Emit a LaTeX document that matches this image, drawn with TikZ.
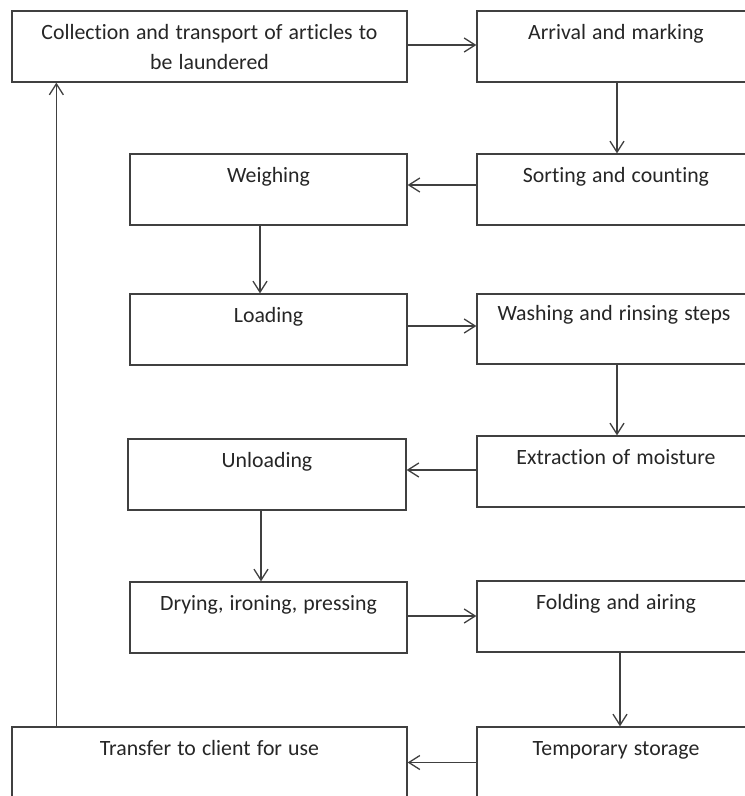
\documentclass[tikz,border=0pt]{standalone}
\usepackage{fontspec}
\setmainfont{Carlito}[Ligatures={NoCommon}, WordSpace={1.25}]
\usetikzlibrary{arrows.meta}
\definecolor{linecol}{HTML}{404040}
\definecolor{textcol}{HTML}{262626}
\begin{document}
\begin{tikzpicture}[x=1pt,y=-1pt,
  box/.style={draw=linecol, line width=1.3pt, rectangle, inner sep=0pt},
  txt/.style={anchor=base, text=textcol, inner sep=0pt, font=\fontsize{21.8}{30}\selectfont, align=center},
  arr/.style={draw=linecol, line width=1.3pt, -{Straight Barb[length=11pt,width=14pt,line width=1.3pt]}}]
\useasboundingbox (0,0) rectangle (745,796);
\fill[white] (0,0) rectangle (745,796);
\clip (0,0) rectangle (745,796);
% boxes
\node[box, minimum width=395pt, minimum height=71pt] (b1) at (209.5,46.5) {};
\node[box, minimum width=278pt, minimum height=71pt] (b2) at (616,46.5) {};
\node[box, minimum width=277pt, minimum height=71pt] (b3) at (268.5,189.5) {};
\node[box, minimum width=278pt, minimum height=71pt] (b4) at (616,189.5) {};
\node[box, minimum width=277pt, minimum height=71pt] (b5) at (268.5,329.5) {};
\node[box, minimum width=278pt, minimum height=70pt] (b6) at (616,329) {};
\node[box, minimum width=278pt, minimum height=71pt] (b7) at (267,474.5) {};
\node[box, minimum width=278pt, minimum height=71pt] (b8) at (616,471.5) {};
\node[box, minimum width=277pt, minimum height=71pt] (b9) at (268.5,617.5) {};
\node[box, minimum width=278pt, minimum height=71pt] (b10) at (616,616.5) {};
\node[box, minimum width=395pt, minimum height=71pt] (b11) at (209.5,762.5) {};
\node[box, minimum width=278pt, minimum height=71pt] (b12) at (616,762.5) {};
% texts
\node[txt] (t1a) at (209.5,39) {Collection and transport of articles to};
\node[txt] (t1b) at (209.5,69) {be laundered};
\node[txt] (t2) at (616,39) {Arrival and marking};
\node[txt] (t3) at (268.5,182) {Weighing};
\node[txt] (t4) at (616,182) {Sorting and counting};
\node[txt] (t5) at (268.5,322) {Loading};
\node[txt] (t6) at (614,320) {Washing and rinsing steps};
\node[txt] (t7) at (267,467) {Unloading};
\node[txt] (t8) at (616,464) {Extraction of moisture};
\node[txt] (t9) at (268.5,610) {Drying, ironing, pressing};
\node[txt] (t10) at (616,609) {Folding and airing};
\node[txt] (t11) at (209.5,755) {Transfer to client for use};
\node[txt] (t12) at (616,755) {Temporary storage};
% connectors
\draw[arr] ([yshift=1.5pt]b1.east) -- ([yshift=1.5pt]b2.west);
\draw[arr] ([xshift=1pt]b2.south) -- ([xshift=1pt]b2.south |- b4.north);
\draw[arr] ([yshift=4.5pt]b4.west) -- ([yshift=4.5pt]b3.east);
\draw[arr] ([xshift=-8.5pt]b3.south) -- ([xshift=-8.5pt]b3.south |- b5.north);
\draw[arr] ([yshift=3.5pt]b5.east) -- ([yshift=3.5pt]b5.east -| b6.west);
\draw[arr] ([xshift=1pt]b6.south) -- ([xshift=1pt]b6.south |- b8.north);
\draw[arr] ([yshift=1.5pt]b8.west) -- ([yshift=1.5pt]b8.west -| b7.east);
\draw[arr] ([xshift=-6pt]b7.south) -- ([xshift=-6pt]b7.south |- b9.north);
\draw[arr] ([yshift=1.5pt]b9.east) -- ([yshift=1.5pt]b9.east -| b10.west);
\draw[arr] ([xshift=4pt]b10.south) -- ([xshift=4pt]b10.south |- b12.north);
\draw[arr] (b12.west) -- (b12.west -| b11.east);
\draw[arr] ([xshift=45pt]b11.north west) -- ([xshift=45pt]b11.north west |- b1.south);
\end{tikzpicture}
\end{document}
